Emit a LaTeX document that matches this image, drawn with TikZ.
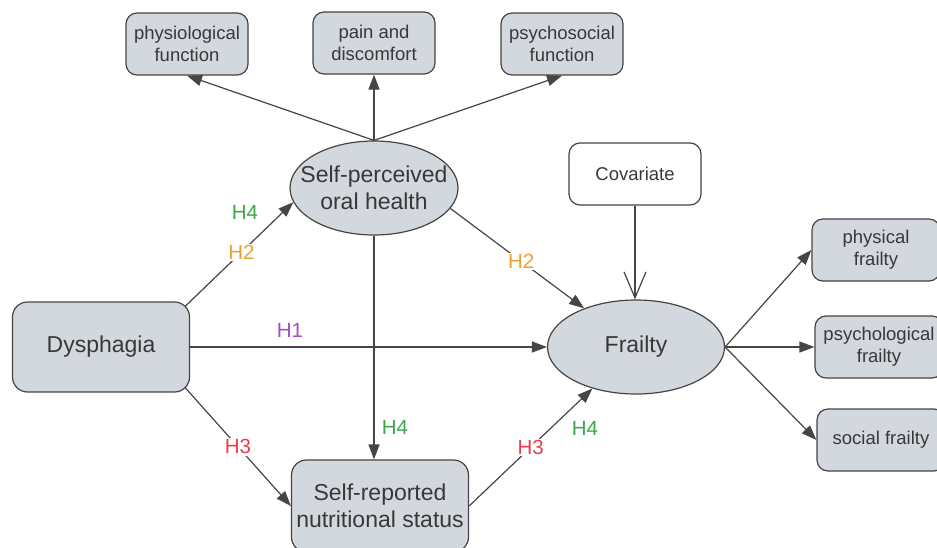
\documentclass[tikz,border=0pt]{standalone}
\usepackage{fontspec}
\setmainfont{Liberation Sans}
\usetikzlibrary{arrows.meta,shapes.geometric,calc}
\definecolor{boxfill}{HTML}{D3D7DE}
\definecolor{boxline}{HTML}{454545}
\definecolor{txt}{HTML}{383838}
\definecolor{hgreen}{HTML}{3CA84E}
\definecolor{horange}{HTML}{EFA02C}
\definecolor{hpurple}{HTML}{A04EC6}
\definecolor{hred}{HTML}{E5404C}
\begin{document}
\begin{tikzpicture}[x=1pt,y=-1pt,
  smallbox/.style={draw=boxline, line width=1.2pt, fill=boxfill, rounded corners=11pt,
    minimum width=122pt, minimum height=62pt, align=center,
    font=\fontsize{18.5}{22}\selectfont, text=txt, inner sep=0pt},
  bigbox/.style={draw=boxline, line width=1.2pt, fill=boxfill, rounded corners=15pt,
    minimum width=177pt, minimum height=90pt, align=center,
    font=\fontsize{23}{27}\selectfont, text=txt, inner sep=0pt},
  ellip/.style={ellipse, draw=boxline, line width=1.2pt, fill=boxfill,
    minimum width=168pt, minimum height=94pt, inner sep=0pt},
  bigtext/.style={align=center, font=\fontsize{23}{27}\selectfont, text=txt, inner sep=0pt},
  lab/.style={font=\fontsize{20.5}{24}\selectfont, fill=white, inner sep=1.5pt},
  arr/.style={draw=boxline, line width=1.2pt, -{Triangle[length=15pt,width=11pt]}},
  openarr/.style={draw=boxline, line width=1.2pt, -{Straight Barb[length=26pt,width=22pt]}}
]
\useasboundingbox (0,0) rectangle (937,547);
\clip (0,0) rectangle (937,547);
\fill[white] (0,0) rectangle (937,547);

\node[smallbox] (phys) at (187,44) {physiological\\function};
\node[smallbox] (pain) at (374,43) {pain and\\discomfort};
\node[smallbox] (psys) at (562,44) {psychosocial\\function};
\node[ellip] (oral) at (374,188) {};
\node[bigtext] (oraltxt) at (oral.center) {Self-perceived\\oral health};
\node[smallbox, fill=white, minimum width=132pt] (cov) at (635,174) {Covariate};
\node[ellip, minimum width=177pt] (frailty) at (636,347) {};
\node[bigtext] (frailtytxt) at (frailty.center) {Frailty};
\node[bigbox] (dys) at (101,347) {Dysphagia};
\node[bigbox, minimum height=92pt] (nut) at (380,506) {Self-reported\\nutritional status};
\node[smallbox, minimum width=128pt] (physf) at (876,250) {physical\\frailty};
\node[smallbox, minimum width=128pt] (psyf) at (879,347) {psychological\\frailty};
\node[smallbox, minimum width=128pt] (socf) at (881,440) {social frailty};

\draw[arr] (oral.north) -- (phys.south);
\draw[arr] (oral.north) -- (pain.south);
\draw[arr] (oral.north) -- (psys.south);
\draw[openarr] (cov.south) -- (cov.south |- frailty.north);

\draw[arr] ($(dys.north east)+(-5,5)$) -- node[lab, text=horange, pos=0.52] (l2a) {H2} (oral.190);
\node[lab, text=hgreen, fill=none] (l4a) at (245,212) {H4};
\draw[arr] (dys.east) -- (frailty.west);
\node[lab, text=hpurple, fill=none] (l1) at (290,330) {H1};
\draw[arr] (oral.south) -- (oral.south |- nut.north);
\node[lab, text=hgreen, fill=none] (l4b) at (395,427) {H4};
\draw[arr] ($(dys.south east)+(-5,-5)$) -- node[lab, text=hred] (l3a) {H3} (nut.west);
\draw[arr] (oral.-15) -- node[lab, text=horange, pos=0.53] (l2b) {H2} (frailty);
\draw[arr] (nut.east) -- node[lab, text=hred] (l3b) {H3} (frailty);
\node[lab, text=hgreen, fill=none] (l4c) at (585,428) {H4};

\draw[arr] (frailty.east) -- (physf.west);
\draw[arr] (frailty.east) -- (psyf.west);
\draw[arr] (frailty.east) -- (socf.west);
\end{tikzpicture}
\end{document}
